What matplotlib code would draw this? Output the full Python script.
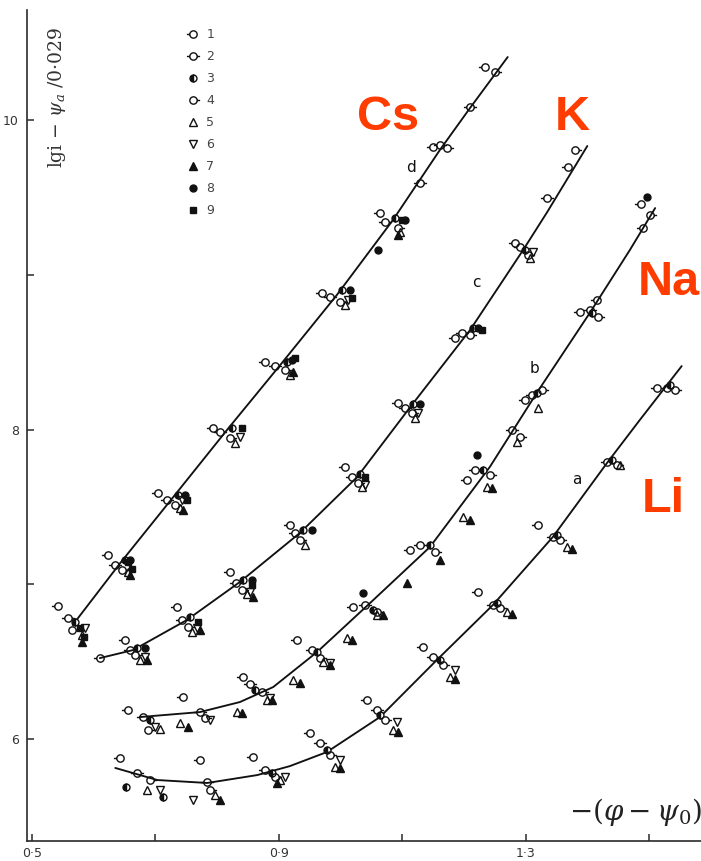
import matplotlib
matplotlib.use("Agg")
import matplotlib.pyplot as plt
from matplotlib.path import Path

# ---------------- fitted curves (x = -(phi - psi0), y = lgi - psi/0.029) ----------------
cs_x = [0.566, 0.643, 0.729, 0.816, 0.905, 0.994, 1.085, 1.161, 1.210, 1.271]
cs_y = [6.737, 7.137, 7.564, 7.997, 8.430, 8.869, 9.354, 9.806, 10.078, 10.407]
k_x = [0.610, 0.664, 0.751, 0.837, 0.934, 1.027, 1.113, 1.210, 1.296, 1.335, 1.400]
k_y = [6.523, 6.575, 6.769, 7.015, 7.331, 7.693, 8.145, 8.643, 9.160, 9.405, 9.832]
na_x = [0.675, 0.772, 0.837, 0.891, 0.962, 1.048, 1.145, 1.242, 1.318, 1.404, 1.469, 1.510]
na_y = [6.142, 6.174, 6.239, 6.336, 6.562, 6.879, 7.241, 7.758, 8.236, 8.753, 9.160, 9.431]
li_x = [0.635, 0.703, 0.784, 0.865, 0.918, 0.978, 1.064, 1.156, 1.247, 1.344, 1.432, 1.485, 1.553]
li_y = [5.813, 5.735, 5.716, 5.767, 5.825, 5.916, 6.142, 6.510, 6.866, 7.305, 7.784, 8.061, 8.410]

# ---------------- experimental points, by symbol type 1..9 (Cs, K, Na, Li) ----------------
t1_x = [0.542, 0.623, 0.704, 0.793, 0.878, 0.970, 1.064, 1.150, 1.234,
        0.610, 0.651, 0.735, 0.821, 0.918, 1.007, 1.093, 1.186, 1.283, 1.369,
        0.656, 0.745, 0.842, 0.929, 1.020, 1.113, 1.205, 1.299, 1.388, 1.416, 1.487, 1.490,
        0.643, 0.772, 0.858, 0.951, 1.043, 1.134, 1.223, 1.320, 1.513]
t1_y = [6.860, 7.189, 7.590, 8.010, 8.436, 8.882, 9.399, 9.826, 10.342,
        6.523, 6.640, 6.853, 7.079, 7.383, 7.758, 8.171, 8.591, 9.205, 9.696,
        6.187, 6.271, 6.401, 6.640, 6.853, 7.221, 7.674, 8.191, 8.759, 8.837, 9.457, 9.302,
        5.877, 5.864, 5.884, 6.039, 6.252, 6.595, 6.950, 7.383, 8.268]

t2_x = [0.558, 0.635, 0.719, 0.805, 0.894, 0.983, 1.072, 1.129, 1.161, 1.210,
        0.659, 0.743, 0.831, 0.926, 1.019, 1.105, 1.197, 1.291, 1.335,
        0.680, 0.772, 0.853, 0.954, 1.040, 1.129, 1.218, 1.278, 1.310, 1.404,
        0.670, 0.784, 0.878, 0.967, 1.059, 1.150, 1.247, 1.344, 1.432, 1.529]
t2_y = [6.782, 7.124, 7.544, 7.984, 8.410, 8.856, 9.341, 9.593, 9.838, 10.084,
        6.575, 6.769, 7.008, 7.331, 7.693, 8.139, 8.624, 9.179, 9.496,
        6.142, 6.174, 6.356, 6.575, 6.866, 7.254, 7.738, 7.997, 8.223, 8.772,
        5.780, 5.722, 5.800, 5.974, 6.187, 6.530, 6.866, 7.305, 7.790, 8.268]

t3_x = [0.570, 0.651, 0.737, 0.824, 0.913, 1.002, 1.088,
        0.670, 0.756, 0.842, 0.939, 1.032, 1.118, 1.215, 1.299,
        0.691, 0.861, 0.962, 1.053, 1.145, 1.231, 1.318, 1.408,
        0.652, 0.712, 0.889, 0.978, 1.064, 1.161, 1.254, 1.351, 1.440, 1.534]
t3_y = [6.756, 7.157, 7.577, 8.010, 8.436, 8.901, 9.367,
        6.588, 6.788, 7.028, 7.351, 7.712, 8.165, 8.656, 9.160,
        6.123, 6.317, 6.562, 6.834, 7.254, 7.738, 8.236, 8.753,
        5.690, 5.625, 5.780, 5.929, 6.155, 6.510, 6.879, 7.318, 7.803, 8.288]

t4_x = [0.565, 0.646, 0.732, 0.821, 0.910, 0.999, 1.093, 1.173, 1.250,
        0.667, 0.753, 0.840, 0.934, 1.028, 1.116, 1.210, 1.304, 1.380,
        0.688, 0.780, 0.873, 0.967, 1.059, 1.153, 1.242, 1.291, 1.327, 1.417, 1.502,
        0.691, 0.788, 0.894, 0.983, 1.072, 1.166, 1.258, 1.356, 1.448, 1.542]
t4_y = [6.704, 7.092, 7.512, 7.945, 8.384, 8.824, 9.302, 9.819, 10.310,
        6.543, 6.724, 6.963, 7.286, 7.654, 8.107, 8.611, 9.128, 9.806,
        6.058, 6.136, 6.304, 6.523, 6.821, 7.208, 7.706, 7.952, 8.255, 8.727, 9.386,
        5.735, 5.671, 5.755, 5.897, 6.123, 6.478, 6.847, 7.286, 7.771, 8.255]

t5_x = [0.581, 0.656, 0.740, 0.829, 0.918, 1.007, 1.096,
        0.675, 0.759, 0.848, 0.942, 1.035, 1.121, 1.307,
        0.707, 0.740, 0.832, 0.881, 0.923, 0.972, 1.011, 1.059, 1.199, 1.237, 1.286, 1.320,
        0.686, 0.797, 0.902, 0.991, 1.085, 1.177, 1.270, 1.367, 1.453]
t5_y = [6.672, 7.079, 7.493, 7.913, 8.352, 8.805, 9.276,
        6.510, 6.692, 6.937, 7.254, 7.628, 8.074, 9.108,
        6.065, 6.103, 6.174, 6.252, 6.382, 6.498, 6.653, 6.801, 7.435, 7.628, 7.919, 8.139,
        5.671, 5.638, 5.735, 5.819, 6.058, 6.401, 6.821, 7.241, 7.771]

t6_x = [0.586, 0.743, 0.837, 1.012,
        0.683, 0.767, 0.853, 1.040, 1.126, 1.312,
        0.699, 0.788, 0.886, 0.983,
        0.761, 0.707, 0.910, 0.999, 1.092, 1.186]
t6_y = [6.717, 7.544, 7.952, 8.837,
        6.530, 6.717, 6.950, 7.641, 8.107, 9.147,
        6.078, 6.123, 6.265, 6.491,
        5.606, 5.671, 5.755, 5.864, 6.110, 6.446]

t7_x = [0.581, 0.659, 0.745, 0.923, 1.093,
        0.686, 0.772, 0.858,
        0.753, 0.840, 0.889, 0.934, 0.983, 1.019, 1.069, 1.108, 1.161, 1.210, 1.246,
        0.805, 0.897, 0.999, 1.093, 1.186, 1.278, 1.375]
t7_y = [6.627, 7.060, 7.480, 8.372, 9.257,
        6.510, 6.704, 6.918,
        6.078, 6.168, 6.252, 6.362, 6.478, 6.640, 6.801, 7.008, 7.157, 7.415, 7.622,
        5.606, 5.716, 5.813, 6.045, 6.388, 6.808, 7.228]

t8_x = [0.659, 0.748, 0.921, 1.015, 1.061, 1.105,
        0.683, 0.857, 0.954, 1.129, 1.223,
        1.036, 1.221, 1.497]
t8_y = [7.157, 7.577, 8.449, 8.901, 9.160, 9.354,
        6.588, 7.028, 7.351, 8.165, 8.656,
        6.943, 7.835, 9.502]

t9_x = [0.578, 0.584, 0.656, 0.662, 0.751, 0.840, 0.926, 1.019, 1.100,
        0.769, 0.857, 1.040, 1.229]
t9_y = [6.717, 6.659, 7.144, 7.098, 7.544, 8.010, 8.462, 8.850, 9.354,
        6.756, 6.995, 7.693, 8.643]

curve_letters = ["d", "c", "b", "a"]
letter_x = [1.114, 1.221, 1.314, 1.383]
letter_y = [9.696, 8.947, 8.397, 7.674]

series_labels = ["1", "2", "3", "4", "5", "6", "7", "8", "9"]
x_major = [0.5, 0.9, 1.3]
x_major_labels = ["0·5", "0·9", "1·3"]
x_minor = [0.7, 1.1, 1.5]
y_major = [6, 8, 10]
y_major_labels = ["6", "8", "10"]
y_minor = [7, 9]

# ---------------- figure ----------------
W, H = 701, 861
plt.rcParams["mathtext.fontset"] = "dejavuserif"
fig = plt.figure(figsize=(W / 100, H / 100), dpi=100)
ax = fig.add_axes([27 / W, 20 / H, 674 / W, 831 / H])
ax.set_xlim(0.4919, 1.5843)
ax.set_ylim(5.341, 10.711)
for s in ("top", "right"):
    ax.spines[s].set_visible(False)
for s in ("left", "bottom"):
    ax.spines[s].set_linewidth(1.2)
    ax.spines[s].set_color("#2a2a2a")

ink = "#111111"
for xs, ys in ((cs_x, cs_y), (k_x, k_y), (na_x, na_y), (li_x, li_y)):
    ax.plot(xs, ys, color=ink, lw=1.35, solid_capstyle="round", solid_joinstyle="round", zorder=2)

circ = Path.unit_circle()
tick_l = Path([(-1.8, 0), (-1.0, 0)])
tick_r = Path([(1.0, 0), (1.8, 0)])
m_left = Path.make_compound_path(circ, tick_l)
m_both = Path.make_compound_path(circ, tick_l, tick_r)
m_right = Path.make_compound_path(circ, tick_r)

styles = [
    dict(marker=m_left, ms=9.5, mfc="none", mec=ink, mew=1.0),
    dict(marker=m_both, ms=9.5, mfc="none", mec=ink, mew=1.0),
    dict(marker="o", ms=5, fillstyle="left", mfc=ink, mfcalt="white", mec=ink, mew=1.0),
    dict(marker=m_right, ms=9.5, mfc="none", mec=ink, mew=1.0),
    dict(marker="^", ms=5.2, mfc="none", mec=ink, mew=1.0),
    dict(marker="v", ms=5.2, mfc="none", mec=ink, mew=1.0),
    dict(marker="^", ms=5.2, mfc=ink, mec=ink, mew=1.0),
    dict(marker="o", ms=5, mfc=ink, mec=ink, mew=1.0),
    dict(marker="s", ms=5, mfc=ink, mec=ink, mew=1.0),
]
pts = [(t1_x, t1_y), (t2_x, t2_y), (t3_x, t3_y), (t4_x, t4_y), (t5_x, t5_y),
       (t6_x, t6_y), (t7_x, t7_y), (t8_x, t8_y), (t9_x, t9_y)]
handles = []
for (xs, ys), st, lab in zip(pts, styles, series_labels):
    h, = ax.plot(xs, ys, ls="none", label=lab, zorder=3, **st)
    handles.append(h)

leg = ax.legend(handles=handles, loc="upper left", bbox_to_anchor=(187 / W, 1 - 28 / H),
                bbox_transform=fig.transFigure, frameon=False, fontsize=9,
                handlelength=1.0, handletextpad=0.55, labelspacing=0.72, borderpad=0,
                borderaxespad=0)
for t in leg.get_texts():
    t.set_color("#444444")

for lt, lx, ly in zip(curve_letters, letter_x, letter_y):
    ax.text(lx, ly, lt, fontsize=11, color=ink, ha="center", va="center")

# ticks
ax.set_xticks(x_major)
ax.set_xticklabels(x_major_labels)
ax.set_xticks(x_minor, minor=True)
ax.set_yticks(y_major)
ax.set_yticklabels(y_major_labels)
ax.set_yticks(y_minor, minor=True)
ax.tick_params(which="both", direction="in", length=5, width=1.1, colors="#2a2a2a",
               labelsize=9, labelcolor="#333333")
ax.tick_params(axis="y", pad=6)
ax.tick_params(axis="x", pad=4)

# axis titles (hand-written in the original)
fig.text(57 / W, 1 - 98 / H, r"lgi $-$ $\psi_a$ /0·029", rotation=90, ha="center", va="center",
         fontsize=13.5, color="#333333", family="DejaVu Serif")
fig.text(635 / W, 1 - 812 / H, r"$-(\varphi - \psi_0)$", ha="center", va="center",
         fontsize=20, color="#222222")

# element labels
red = "#FF3C00"
for txt, px, py in (("Cs", 357, 130), ("K", 555, 130), ("Na", 638, 295), ("Li", 642, 512)):
    fig.text(px / W, 1 - py / H, txt, color=red, fontsize=35, fontweight="bold",
             family="Liberation Sans", ha="left", va="baseline")

fig.savefig("out.png", dpi=100)
